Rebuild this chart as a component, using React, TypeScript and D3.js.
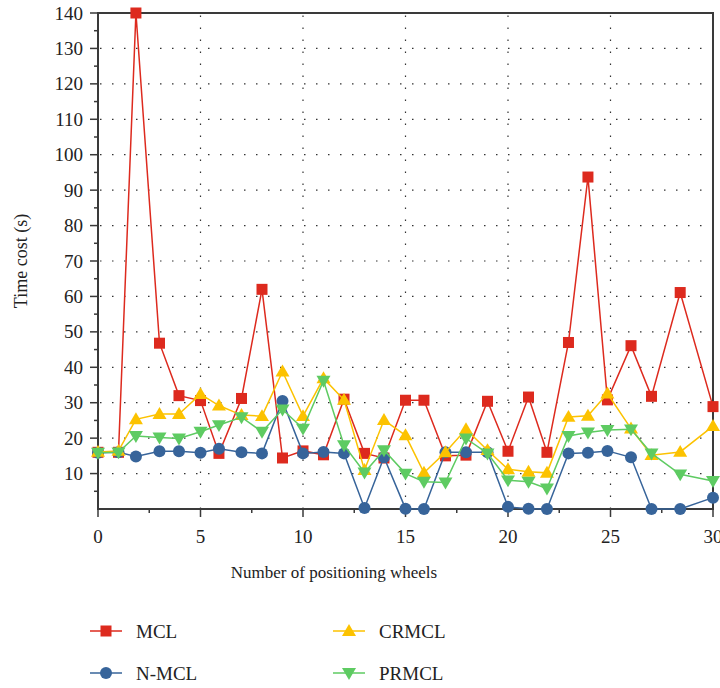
import * as d3 from 'd3'

const wheels = [0, 1, 1.85, 3, 3.95, 5, 5.9, 7, 8, 9, 10, 11, 12, 13, 13.95, 15, 15.9, 16.95, 17.95, 19, 20, 21, 21.9, 22.95, 23.9, 24.85, 26, 27, 28.4, 30]

const mcl = [16, 16, 140, 46.8, 32, 30.6, 15.7, 31.2, 62, 14.4, 16.4, 15.3, 31, 15.7, 14.4, 30.7, 30.7, 15, 15.2, 30.4, 16.3, 31.6, 16, 47, 93.7, 30.8, 46.1, 31.8, 61.1, 28.9]
const nmcl = [15.9, 16, 14.8, 16.3, 16.3, 15.9, 17, 16, 15.7, 30.5, 15.7, 16.1, 15.7, 0.3, 14.6, 0.1, 0, 16, 16, 16, 0.6, 0.1, 0, 15.7, 15.9, 16.4, 14.6, 0, 0, 3.2]
const crmcl = [16.1, 16.4, 25.3, 26.8, 26.8, 32.4, 29.2, 26.5, 26.2, 38.8, 26.2, 36.9, 30.8, 11, 25.1, 20.8, 10.2, 16, 22.5, 16.6, 11.2, 10.5, 10.2, 26, 26.3, 32.6, 22.7, 15.2, 16.1, 23.4]
const prmcl = [15.9, 16, 20.6, 20.2, 19.9, 21.8, 23.7, 25.9, 21.8, 28.1, 22.7, 36.2, 18, 10.3, 16.6, 10, 7.7, 7.5, 19.9, 15.7, 8.1, 7.7, 5.8, 20.6, 21.6, 22.3, 22.5, 15.7, 9.8, 7.9]

const xTicks = [0, 5, 10, 15, 20, 25, 30]
const yTicks = [10, 20, 30, 40, 50, 60, 70, 80, 90, 100, 110, 120, 130, 140]

type Shape = 'square' | 'circle' | 'up' | 'down'

const series: { name: string, values: number[], colour: string, shape: Shape }[] = [
    { name: 'MCL', values: mcl, colour: '#dd2a1e', shape: 'square' },
    { name: 'N-MCL', values: nmcl, colour: '#37649a', shape: 'circle' },
    { name: 'CRMCL', values: crmcl, colour: '#fcc200', shape: 'up' },
    { name: 'PRMCL', values: prmcl, colour: '#5ecb62', shape: 'down' },
]

const font = '"Liberation Serif", "DejaVu Serif", serif'
const axisColour = '#3a3a3a'

const Marker = ({ shape, x, y, colour }: { shape: Shape, x: number, y: number, colour: string }) => {
    if (shape === 'square') {
        return <rect x={x - 5.5} y={y - 5.5} width={11} height={11} fill={colour} />
    }
    if (shape === 'circle') {
        return <circle cx={x} cy={y} r={6} fill={colour} />
    }
    const s = 7
    const d = shape === 'up'
        ? `M ${x} ${y - s} L ${x + s} ${y + s * 0.7} L ${x - s} ${y + s * 0.7} Z`
        : `M ${x} ${y + s} L ${x + s} ${y - s * 0.7} L ${x - s} ${y - s * 0.7} Z`
    return <path d={d} fill={colour} />
}

const App = () => {
    const svgWidth = 720
    const svgHeight = 688
    const left = 98
    const right = 713
    const top = 13
    const bottom = 509

    const x = d3.scaleLinear().domain([0, 30]).range([left, right])
    const y = d3.scaleLinear().domain([0, 140]).range([bottom, top])

    const minorX = d3.range(2.5, 30, 5)
    const minorY = d3.range(5, 140, 10)

    const grid = (
        <g stroke='#333' strokeWidth={1.2} strokeDasharray='1.5 10.5'>
            {yTicks.slice(0, -1).map(v => (
                <line key={'gy' + v} x1={left + 2} x2={right} y1={y(v)} y2={y(v)} />
            ))}
            {xTicks.slice(1, -1).map(v => (
                <line key={'gx' + v} x1={x(v)} x2={x(v)} y1={bottom} y2={top} />
            ))}
        </g>
    )

    const lines = series.map(s => {
        const pts = s.values.map((v, i) => [wheels[i], v] as [number, number])
        const path = d3.line<[number, number]>().x(d => x(d[0])).y(d => y(d[1]))(pts) as string
        return (
            <g key={s.name}>
                <path d={path} fill='none' stroke={s.colour} strokeWidth={1.5} />
                {pts.map((p, i) => (
                    <Marker key={i} shape={s.shape} x={x(p[0])} y={y(p[1])} colour={s.colour} />
                ))}
            </g>
        )
    })

    const axes = (
        <g stroke={axisColour} fill='none'>
            <path d={`M ${left} ${top} H ${right} V ${bottom} H ${left} Z`} strokeWidth={2} />
            {yTicks.map(v => (
                <line key={'ty' + v} x1={left - 8} x2={left} y1={y(v)} y2={y(v)} strokeWidth={1.5} />
            ))}
            {minorY.map(v => (
                <line key={'my' + v} x1={left - 4} x2={left} y1={y(v)} y2={y(v)} strokeWidth={1.5} />
            ))}
            {xTicks.map(v => (
                <line key={'tx' + v} x1={x(v)} x2={x(v)} y1={bottom} y2={bottom + 8} strokeWidth={1.5} />
            ))}
            {minorX.map(v => (
                <line key={'mx' + v} x1={x(v)} x2={x(v)} y1={bottom} y2={bottom + 4} strokeWidth={1.5} />
            ))}
        </g>
    )

    const labels = (
        <g fontFamily={font} fill='#222'>
            {yTicks.map(v => (
                <text key={'ly' + v} x={left - 15} y={y(v)} textAnchor='end' dominantBaseline='central' fontSize={19}>{v}</text>
            ))}
            {xTicks.map(v => (
                <text key={'lx' + v} x={x(v)} y={bottom + 34} textAnchor='middle' fontSize={19}>{v}</text>
            ))}
            <text x={334} y={578} textAnchor='middle' fontSize={17}>Number of positioning wheels</text>
            <text transform={`translate(27, ${(top + bottom) / 2}) rotate(-90)`} textAnchor='middle' fontSize={18}>Time cost (s)</text>
        </g>
    )

    const legendPos = [[90, 631], [90, 673], [333, 631], [333, 673]]
    const legend = series.map((s, i) => {
        const [lx, ly] = legendPos[i]
        return (
            <g key={'lg' + s.name}>
                <line x1={lx} x2={lx + 32} y1={ly} y2={ly} stroke={s.colour} strokeWidth={1.5} />
                <Marker shape={s.shape} x={lx + 16} y={ly} colour={s.colour} />
                <text x={lx + 46} y={ly} dominantBaseline='central' fontFamily={font} fontSize={19} fill='#222'>{s.name}</text>
            </g>
        )
    })

    return (
        <svg width={svgWidth} height={svgHeight} style={{ position: 'absolute', left: 0, top: 0, background: '#fff' }}>
            {grid}
            {axes}
            {lines}
            {labels}
            {legend}
        </svg>
    )
}

export default App
